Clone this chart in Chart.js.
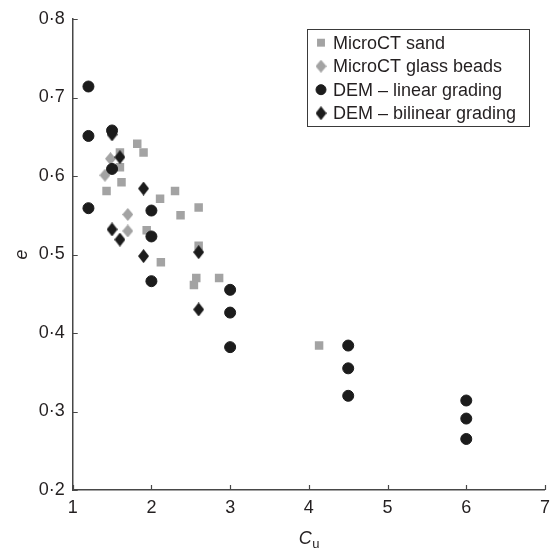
<!DOCTYPE html>
<html>
<head>
<meta charset="utf-8">
<script src="https://cdn.jsdelivr.net/npm/chart.js@4/dist/chart.umd.min.js"></script>
<style>
  html, body { margin: 0; padding: 0; background: #fff; }
  canvas { display: block; }
</style>
</head>
<body>
<canvas id="chart" width="557" height="548"></canvas>
<script>
// Void ratio e against uniformity coefficient Cu
const seriesNames = ['MicroCT sand', 'MicroCT glass beads', 'DEM \u2013 linear grading', 'DEM \u2013 bilinear grading'];

const sandCu = [1.43, 1.60, 1.60, 1.62, 1.82, 1.90, 1.94, 2.11, 2.12, 2.30, 2.37, 2.54, 2.57, 2.60, 2.60, 2.86, 4.13];
const sandE  = [0.581, 0.630, 0.611, 0.592, 0.641, 0.630, 0.531, 0.571, 0.490, 0.581, 0.550, 0.461, 0.470, 0.560, 0.511, 0.470, 0.384];

const beadsCu = [1.41, 1.48, 1.70, 1.70];
const beadsE  = [0.601, 0.622, 0.551, 0.530];

const linearCu = [1.2, 1.2, 1.2, 1.5, 1.5, 2.0, 2.0, 2.0, 3.0, 3.0, 3.0, 4.5, 4.5, 4.5, 6.0, 6.0, 6.0];
const linearE  = [0.714, 0.651, 0.559, 0.658, 0.609, 0.556, 0.523, 0.466, 0.455, 0.426, 0.382, 0.384, 0.355, 0.320, 0.314, 0.291, 0.265];

const bilinearCu = [1.5, 1.6, 1.9, 1.5, 1.6, 1.9, 2.6, 2.6];
const bilinearE  = [0.653, 0.624, 0.584, 0.532, 0.519, 0.498, 0.503, 0.430];

const xTicks = [1, 2, 3, 4, 5, 6, 7];
const yTicks = [0.2, 0.3, 0.4, 0.5, 0.6, 0.7, 0.8];

const GREY = '#a3a3a3';
const BLACK = '#1c1c1c';
const AXIS = '#474747';
const TEXT = '#231f20';
const FONT = "'Liberation Sans', Arial, sans-serif";

function pairs(xs, ys) { return xs.map((x, i) => ({ x: x, y: ys[i] })); }

// Slightly tall diamond marker
function diamond(color, w, h) {
  const c = document.createElement('canvas');
  c.width = w; c.height = h;
  const g = c.getContext('2d');
  g.fillStyle = color;
  g.beginPath();
  g.moveTo(w / 2, 0); g.lineTo(w, h / 2); g.lineTo(w / 2, h); g.lineTo(0, h / 2);
  g.closePath(); g.fill();
  return c;
}

const datasets = [
  { label: seriesNames[0], data: pairs(sandCu, sandE), pointStyle: 'rect', pointRadius: 6,
    backgroundColor: GREY, borderColor: GREY, borderWidth: 0, order: 4 },
  { label: seriesNames[1], data: pairs(beadsCu, beadsE), pointStyle: diamond(GREY, 11, 13), pointRadius: 6,
    backgroundColor: GREY, borderColor: GREY, borderWidth: 0, order: 3 },
  { label: seriesNames[2], data: pairs(linearCu, linearE), pointStyle: 'circle', pointRadius: 5.5,
    backgroundColor: BLACK, borderColor: BLACK, borderWidth: 1, order: 2 },
  { label: seriesNames[3], data: pairs(bilinearCu, bilinearE), pointStyle: diamond(BLACK, 11, 14), pointRadius: 6,
    backgroundColor: BLACK, borderColor: BLACK, borderWidth: 0, order: 1 }
];

// Inward tick marks, boxed legend and the Cu axis title
const decorations = {
  id: 'decorations',
  afterDraw(chart) {
    const ctx = chart.ctx;
    const xs = chart.scales.x, ys = chart.scales.y;
    const area = chart.chartArea;
    ctx.save();
    ctx.strokeStyle = AXIS;
    ctx.lineWidth = 1.2;
    ctx.beginPath();
    xTicks.forEach(v => {
      const px = Math.round(xs.getPixelForValue(v)) + 0.5;
      ctx.moveTo(px, area.bottom); ctx.lineTo(px, area.bottom - 5);
    });
    yTicks.forEach(v => {
      const py = Math.round(ys.getPixelForValue(v)) + 0.5;
      ctx.moveTo(area.left, py); ctx.lineTo(area.left + 5, py);
    });
    ctx.stroke();

    // legend
    const bx = 307.5, by = 29.5, bw = 222, bh = 97;
    ctx.fillStyle = '#fff';
    ctx.fillRect(bx, by, bw, bh);
    ctx.strokeStyle = '#3a3a3a';
    ctx.lineWidth = 1;
    ctx.strokeRect(bx, by, bw, bh);
    ctx.font = '18px ' + FONT;
    ctx.textBaseline = 'middle';
    ctx.textAlign = 'left';
    chart.data.datasets.forEach((ds, i) => {
      const cy = 42.7 + i * 23.5;
      ctx.fillStyle = ds.backgroundColor;
      ctx.strokeStyle = ds.borderColor;
      ctx.lineWidth = ds.borderWidth;
      Chart.helpers.drawPoint(ctx, {
        pointStyle: ds.pointStyle, radius: ds.pointStyle === 'rect' ? 5.6 : 5,
        rotation: 0, borderWidth: ds.borderWidth
      }, 321, cy);
      ctx.fillStyle = TEXT;
      ctx.fillText(ds.label, 333, cy + 1);
    });

    // x axis title: italic C with subscript u
    const cx = (area.left + area.right) / 2;
    ctx.fillStyle = TEXT;
    ctx.textBaseline = 'alphabetic';
    ctx.font = 'italic 18px ' + FONT;
    const cw = ctx.measureText('C').width;
    ctx.font = '13px ' + FONT;
    const uw = ctx.measureText('u').width;
    const start = cx - (cw + uw) / 2;
    ctx.font = 'italic 18px ' + FONT;
    ctx.fillText('C', start, 544);
    ctx.font = '13px ' + FONT;
    ctx.fillText('u', start + cw + 0.5, 548);
    ctx.restore();
  }
};

new Chart(document.getElementById('chart'), {
  type: 'scatter',
  data: { datasets: datasets },
  plugins: [decorations],
  options: {
    responsive: false,
    animation: false,
    devicePixelRatio: 1,
    layout: { padding: { left: 0, right: 10.3, top: 19, bottom: 0 } },
    plugins: { legend: { display: false }, tooltip: { enabled: false } },
    scales: {
      x: {
        type: 'linear', min: 1, max: 7,
        afterBuildTicks: s => { s.ticks = xTicks.map(v => ({ value: v })); },
        afterFit: s => { s.height = 58; },
        grid: { display: true, drawOnChartArea: false, drawTicks: false },
        border: { display: true, color: AXIS, width: 1.5 },
        ticks: { padding: 7, color: TEXT, font: { family: FONT, size: 18 }, maxRotation: 0,
                 callback: v => String(v) },
        title: { display: false }
      },
      y: {
        type: 'linear', min: 0.2, max: 0.8,
        afterBuildTicks: s => { s.ticks = yTicks.map(v => ({ value: v })); },
        afterFit: s => { s.width = 72.7; },
        grid: { display: true, drawOnChartArea: false, drawTicks: false },
        border: { display: true, color: AXIS, width: 1.5 },
        ticks: { padding: 8, color: TEXT, font: { family: FONT, size: 18 },
                 callback: v => Number(v).toFixed(1).replace('.', '\u00b7') },
        title: { display: true, text: 'e', color: TEXT, padding: { top: 11, bottom: 0 },
                 font: { family: FONT, size: 18, style: 'italic' } }
      }
    }
  }
});
</script>
</body>
</html>
